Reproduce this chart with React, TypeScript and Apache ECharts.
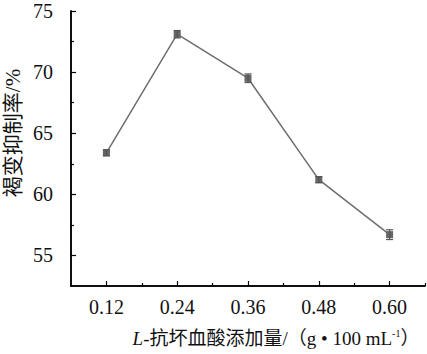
import React, { useEffect, useRef } from "react";
import * as echarts from "echarts";

const doses = [0.12, 0.24, 0.36, 0.48, 0.6];
const inhibition = [63.4, 73.1, 69.5, 61.2, 56.7];
const errors = [0.25, 0.3, 0.35, 0.25, 0.4];
const yMajor = [55, 60, 65, 70, 75];
const yMinor = [57.5, 62.5, 67.5, 72.5];
const xMajor = [0.12, 0.24, 0.36, 0.48, 0.6];
const xMinor = [0.18, 0.3, 0.42, 0.54, 0.66];

const serif = "'Liberation Serif', 'Times New Roman', 'Noto Sans CJK SC', serif";
const cjk = "'Liberation Serif', 'Noto Sans CJK SC', serif";

export default function App() {
  const ref = useRef<HTMLDivElement>(null);
  useEffect(() => {
    if (!ref.current) return;
    const chart = echarts.init(ref.current, undefined, { renderer: "svg" });
    const axisLine = { show: true, lineStyle: { color: "#000", width: 1.5 } };
    const baseX = {
      type: "value" as const,
      min: 0.06,
      max: 0.66,
      position: "bottom" as const,
      splitLine: { show: false },
      axisLine,
    };
    const baseY = {
      type: "value" as const,
      min: 52.5,
      max: 75,
      position: "left" as const,
      splitLine: { show: false },
      axisLine,
    };
    const points = doses.map((d, i) => [d, inhibition[i]]);
    chart.setOption({
      animation: false,
      backgroundColor: "#fff",
      grid: { left: 71, top: 11, right: 2, bottom: 68, containLabel: false },
      xAxis: [
        {
          ...baseX,
          axisTick: { show: true, inside: true, length: 5, lineStyle: { color: "#000", width: 1.2 }, customValues: xMajor },
          axisLabel: {
            show: true,
            customValues: xMajor,
            margin: 11,
            fontFamily: serif,
            fontSize: 20,
            color: "#111",
            formatter: (v: number) => v.toFixed(2),
          },
        },
        {
          ...baseX,
          axisTick: { show: true, inside: true, length: 3, lineStyle: { color: "#000", width: 1.2 }, customValues: xMinor },
          axisLabel: { show: false },
        },
      ],
      yAxis: [
        {
          ...baseY,
          axisTick: { show: true, inside: true, length: 5, lineStyle: { color: "#000", width: 1.2 }, customValues: yMajor },
          axisLabel: {
            show: true,
            customValues: yMajor,
            margin: 18,
            fontFamily: serif,
            fontSize: 20,
            color: "#111",
          },
        },
        {
          ...baseY,
          axisTick: { show: true, inside: true, length: 3, lineStyle: { color: "#000", width: 1.2 }, customValues: yMinor },
          axisLabel: { show: false },
        },
      ],
      series: [
        {
          type: "line",
          xAxisIndex: 0,
          yAxisIndex: 0,
          data: points,
          symbol: "rect",
          symbolSize: 7,
          lineStyle: { color: "#6e6e6e", width: 1.5 },
          itemStyle: { color: "#666" },
          z: 3,
        },
        {
          type: "custom",
          xAxisIndex: 0,
          yAxisIndex: 0,
          data: doses.map((d, i) => [d, inhibition[i] - errors[i], inhibition[i] + errors[i]]),
          renderItem: (params: any, api: any) => {
            const x = api.value(0);
            const lo = api.coord([x, api.value(1)]);
            const hi = api.coord([x, api.value(2)]);
            const w = 3.5;
            const style = { stroke: "#555", lineWidth: 1.2 };
            return {
              type: "group",
              children: [
                { type: "line", shape: { x1: lo[0], y1: lo[1], x2: hi[0], y2: hi[1] }, style },
                { type: "line", shape: { x1: lo[0] - w, y1: lo[1], x2: lo[0] + w, y2: lo[1] }, style },
                { type: "line", shape: { x1: hi[0] - w, y1: hi[1], x2: hi[0] + w, y2: hi[1] }, style },
              ],
            };
          },
          z: 4,
        },
      ],
      graphic: [
        {
          type: "text",
          x: 13,
          y: 133,
          rotation: Math.PI / 2,
          style: {
            text: "褐变抑制率/%",
            font: `21px ${cjk}`,
            fill: "#111",
            align: "center",
            verticalAlign: "middle",
          },
        },
        {
          type: "text",
          x: 276,
          y: 338,
          style: {
            text: "{i|L}{n|-抗坏血酸添加量/（g • 100 mL}{s|-1}{n|）}",
            align: "center",
            verticalAlign: "middle",
            fill: "#111",
            rich: {
              i: { fontFamily: serif, fontStyle: "italic", fontSize: 19, fill: "#111" },
              n: { fontFamily: cjk, fontSize: 19, fill: "#111" },
              s: { fontFamily: serif, fontSize: 10, fill: "#111", verticalAlign: "top", padding: [0, 0, 10, 0] },
            },
          },
        },
      ],
    });
    return () => chart.dispose();
  }, []);
  return <div ref={ref} style={{ width: 427, height: 354, position: "absolute", left: 0, top: 0 }} />;
}
